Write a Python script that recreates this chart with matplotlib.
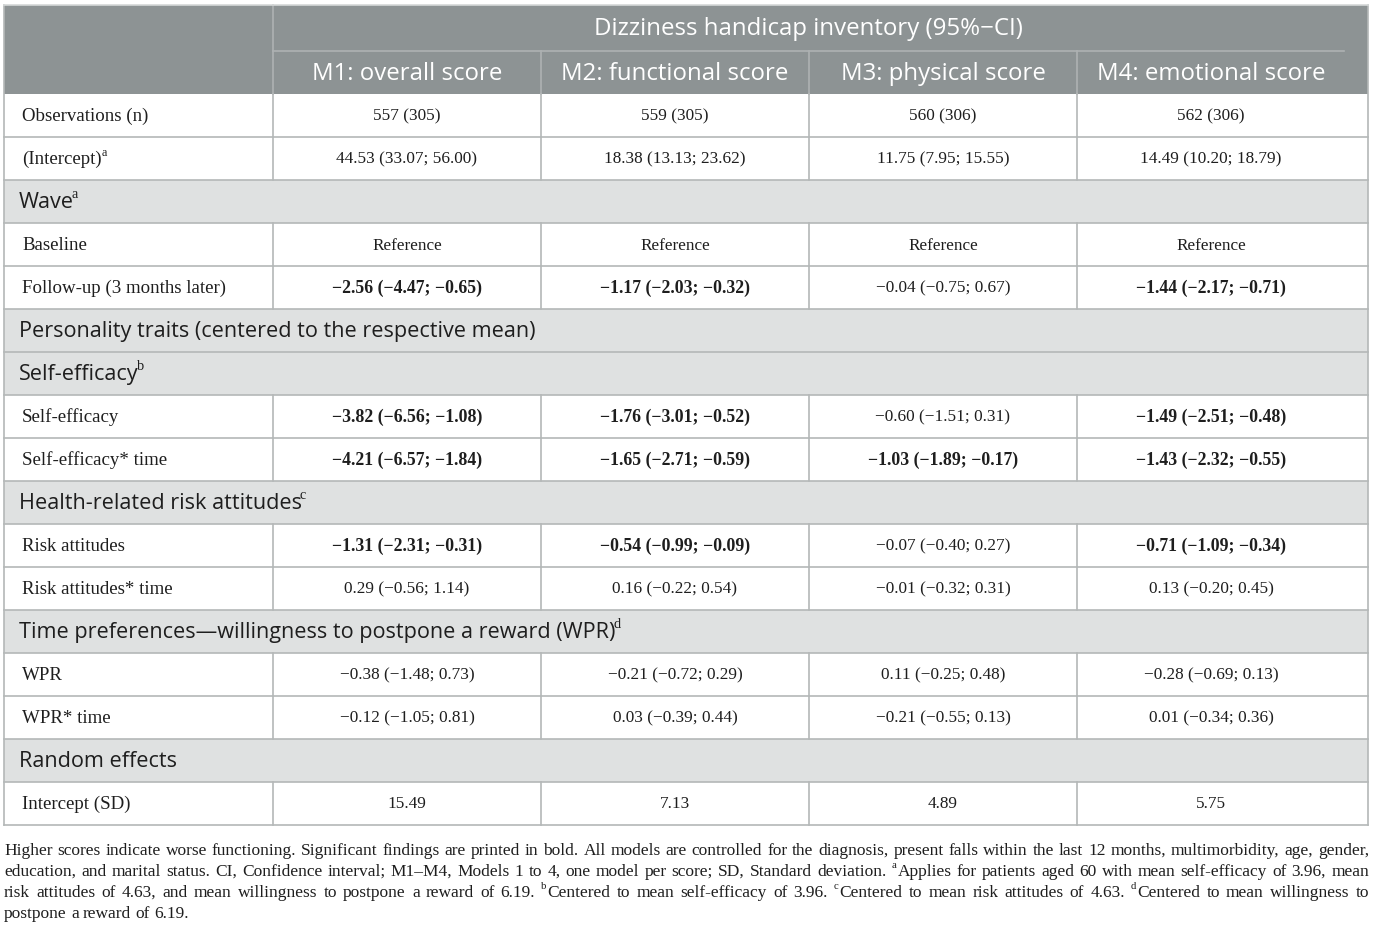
import matplotlib
matplotlib.use("Agg")
import matplotlib.pyplot as plt
from matplotlib.patches import Rectangle

# --- données du tableau ---
title = "Dizziness handicap inventory (95%\u2212CI)"
models = ["M1: overall score", "M2: functional score", "M3: physical score", "M4: emotional score"]

observations = ["557 (305)", "559 (305)", "560 (306)", "562 (306)"]
intercept = ["44.53 (33.07; 56.00)", "18.38 (13.13; 23.62)", "11.75 (7.95; 15.55)", "14.49 (10.20; 18.79)"]
baseline = ["Reference", "Reference", "Reference", "Reference"]
follow_up = ["\u22122.56 (\u22124.47; \u22120.65)", "\u22121.17 (\u22122.03; \u22120.32)",
             "\u22120.04 (\u22120.75; 0.67)", "\u22121.44 (\u22122.17; \u22120.71)"]
self_eff = ["\u22123.82 (\u22126.56; \u22121.08)", "\u22121.76 (\u22123.01; \u22120.52)",
            "\u22120.60 (\u22121.51; 0.31)", "\u22121.49 (\u22122.51; \u22120.48)"]
self_eff_time = ["\u22124.21 (\u22126.57; \u22121.84)", "\u22121.65 (\u22122.71; \u22120.59)",
                 "\u22121.03 (\u22121.89; \u22120.17)", "\u22121.43 (\u22122.32; \u22120.55)"]
risk = ["\u22121.31 (\u22122.31; \u22120.31)", "\u22120.54 (\u22120.99; \u22120.09)",
        "\u22120.07 (\u22120.40; 0.27)", "\u22120.71 (\u22121.09; \u22120.34)"]
risk_time = ["0.29 (\u22120.56; 1.14)", "0.16 (\u22120.22; 0.54)",
             "\u22120.01 (\u22120.32; 0.31)", "0.13 (\u22120.20; 0.45)"]
wpr = ["\u22120.38 (\u22121.48; 0.73)", "\u22120.21 (\u22120.72; 0.29)",
       "0.11 (\u22120.25; 0.48)", "\u22120.28 (\u22120.69; 0.13)"]
wpr_time = ["\u22120.12 (\u22121.05; 0.81)", "0.03 (\u22120.39; 0.44)",
            "\u22120.21 (\u22120.55; 0.13)", "0.01 (\u22120.34; 0.36)"]
random_sd = ["15.49", "7.13", "4.89", "5.75"]

no_bold = [False, False, False, False]
bold_fu = [True, True, False, True]
bold_all = [True, True, True, True]

# (type, libellé, exposant, valeurs, gras)
rows = [
    ("data", "Observations (n)", "", observations, no_bold),
    ("data", "(Intercept)", "a", intercept, no_bold),
    ("section", "Wave", "a", None, None),
    ("data", "Baseline", "", baseline, no_bold),
    ("data", "Follow-up (3 months later)", "", follow_up, bold_fu),
    ("section", "Personality traits (centered to the respective mean)", "", None, None),
    ("section", "Self-efficacy", "b", None, None),
    ("data", "Self-efficacy", "", self_eff, bold_fu),
    ("data", "Self-efficacy* time", "", self_eff_time, bold_all),
    ("section", "Health-related risk attitudes", "c", None, None),
    ("data", "Risk attitudes", "", risk, bold_fu),
    ("data", "Risk attitudes* time", "", risk_time, no_bold),
    ("section", "Time preferences\u2014willingness to postpone a reward (WPR)", "d", None, None),
    ("data", "WPR", "", wpr, no_bold),
    ("data", "WPR* time", "", wpr_time, no_bold),
    ("section", "Random effects", "", None, None),
    ("data", "Intercept (SD)", "", random_sd, no_bold),
]

# note de bas de tableau : segments (texte, exposant)
notes = [
    [("Higher scores indicate worse functioning. Significant findings are printed in bold. All models are controlled for the diagnosis, present falls within the last 12 months, multimorbidity, age, gender,", False)],
    [("education, and marital status. CI, Confidence interval; M1\u2013M4, Models 1 to 4, one model per score; SD, Standard deviation. ", False),
     ("a", True), ("Applies for patients aged 60 with mean self-efficacy of 3.96, mean", False)],
    [("risk attitudes of 4.63, and mean willingness to postpone a reward of 6.19. ", False), ("b", True),
     ("Centered to mean self-efficacy of 3.96. ", False), ("c", True),
     ("Centered to mean risk attitudes of 4.63. ", False), ("d", True), ("Centered to mean willingness to", False)],
    [("postpone a reward of 6.19.", False)],
]

# --- mise en page ---
W, H = 1375, 931
SERIF = ["Liberation Serif", "DejaVu Serif"]
SANS = ["Open Sans", "DejaVu Sans"]
HEAD_BG = "#8d9394"
HEAD_LINE = "#aeb2b3"
SEC_BG = "#dfe1e1"
GRID = "#b4b8b8"
TXT = "#1e1e1e"

x_left, x_right = 4, 1368
col_x = [273, 541, 809, 1077]
col_w = 268
y_top, y_mid, y_head = 5, 51, 94
row_h = 43.0

fs_head = 17.3
fs_sec = 15.6
fs_label = 13.6
fs_val = 12.4
fs_bold = 12.8

fig = plt.figure(figsize=(W / 100, H / 100), dpi=100)
ax = fig.add_axes([0, 0, 1, 1])
ax.set_xlim(0, W)
ax.set_ylim(H, 0)
ax.axis("off")
renderer = fig.canvas.get_renderer()


def text_width(t):
    bb = t.get_window_extent(renderer)
    return bb.width


def put(x, y, s, sup="", ha="left", pad=1.0, **kw):
    t = ax.text(x, y, s, ha=ha, va="center", **kw)
    if sup:
        w = text_width(t)
        x0 = x - w / 2 if ha == "center" else x
        kw2 = dict(kw)
        kw2["fontsize"] = kw.get("fontsize", 10) * 0.65
        kw2["family"] = SERIF
        ax.text(x0 + w + pad, y - kw.get("fontsize", 10) * 0.5, sup, ha="left", va="center", **kw2)
    return t


# en-tête
ax.add_patch(Rectangle((x_left, y_top), x_right - x_left, y_head - y_top, color=HEAD_BG, lw=0))
ax.plot([col_x[0], col_x[0]], [y_top, y_head], color=HEAD_LINE, lw=1.2)
ax.plot([col_x[0], 1344], [y_mid, y_mid], color=HEAD_LINE, lw=1.2)
for c in col_x[1:]:
    ax.plot([c, c], [y_mid, y_head], color=HEAD_LINE, lw=1.2)
put((col_x[0] + 1344) / 2, (y_top + y_mid) / 2 + 1, title, ha="center", fontsize=fs_head, color="white", family=SANS)
for i, m in enumerate(models):
    put(col_x[i] + col_w / 2, (y_mid + y_head) / 2 + 1, m, ha="center", fontsize=fs_head, color="white", family=SANS)

# corps
y = y_head
for kind, label, sup, vals, bold in rows:
    yc = y + row_h / 2
    if kind == "section":
        ax.add_patch(Rectangle((x_left, y), x_right - x_left, row_h, color=SEC_BG, lw=0))
        put(19, yc + 1, label, sup, pad=-2.0, fontsize=fs_sec, color=TXT, family=SANS)
    else:
        for c in col_x:
            ax.plot([c, c], [y, y + row_h], color=GRID, lw=1.2)
        put(22, yc + 1, label, sup, pad=0.5, fontsize=fs_label, color=TXT, family=SERIF)
        for i, v in enumerate(vals):
            put(col_x[i] + col_w / 2, yc + 1, v, ha="center", fontsize=fs_bold if bold[i] else fs_val, color=TXT,
                family=SERIF, fontweight="bold" if bold[i] else "normal")
    ax.plot([x_left, x_right], [y + row_h, y + row_h], color=GRID, lw=1.2)
    y += row_h

y_bottom = y
ax.plot([x_left, x_left], [y_top, y_bottom], color=GRID, lw=1.2)
ax.plot([x_right, x_right], [y_top, y_bottom], color=GRID, lw=1.2)
ax.plot([x_left, x_right], [y_top, y_top], color="#d5d8d8", lw=1.2)


# note justifiée : taille choisie pour que la 1re ligne remplisse la largeur
def split_words(line, size, yy):
    words = [[]]
    for s, is_sup in line:
        if is_sup:
            words[-1].append((s, True))
            continue
        parts = s.split(" ")
        for k, p in enumerate(parts):
            if k > 0:
                words.append([])
            if p:
                words[-1].append((p, False))
    words = [w for w in words if w]
    pieces, widths = [], []
    for w in words:
        ww = 0
        items = []
        for s, is_sup in w:
            fs = size * 0.62 if is_sup else size
            t = ax.text(0, yy - (size * 0.5 if is_sup else 0), s, ha="left", va="center",
                        fontsize=fs, color=TXT, family=SERIF)
            tw = text_width(t)
            items.append((t, ww))
            ww += tw + (1 if is_sup else 0)
        pieces.append(items)
        widths.append(ww)
    return pieces, widths


probe = ax.text(0, 0, notes[0][0][0], fontsize=10, family=SERIF)
note_size = 10 * (x_right - x_left) / text_width(probe) * 0.985
probe.remove()
space_w = note_size * 100 / 72 * 0.25

note_y0, note_dy = 851, 21
for li, line in enumerate(notes):
    yy = note_y0 + li * note_dy
    pieces, widths = split_words(line, note_size, yy)
    last = li == len(notes) - 1
    gap = space_w if last else (x_right + 1 - x_left - sum(widths)) / (len(widths) - 1)
    xx = x_left
    for items, ww in zip(pieces, widths):
        for t, off in items:
            t.set_x(xx + off)
        xx += ww + gap

fig.savefig("out.png", dpi=100, facecolor="white")
